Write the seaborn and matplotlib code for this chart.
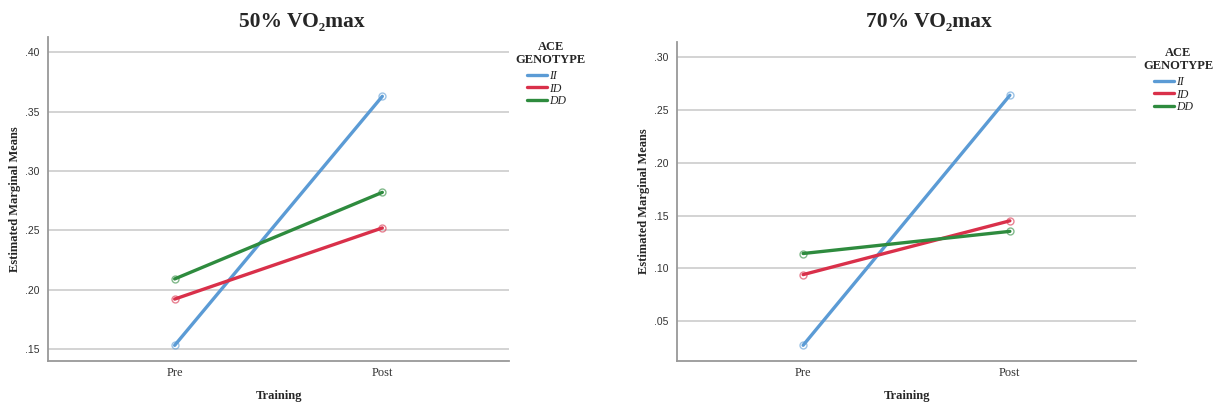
import matplotlib
matplotlib.use("Agg")
import matplotlib.pyplot as plt
from matplotlib.lines import Line2D
import seaborn as sns
import pandas as pd

training = ["Pre", "Post"]
genotypes = ["II", "ID", "DD"]
vo50_II = [0.153, 0.363]
vo50_ID = [0.192, 0.252]
vo50_DD = [0.209, 0.282]
vo70_II = [0.027, 0.264]
vo70_ID = [0.094, 0.145]
vo70_DD = [0.114, 0.135]
ticks50 = [0.15, 0.20, 0.25, 0.30, 0.35, 0.40]
labels50 = [".15", ".20", ".25", ".30", ".35", ".40"]
ticks70 = [0.05, 0.10, 0.15, 0.20, 0.25, 0.30]
labels70 = [".05", ".10", ".15", ".20", ".25", ".30"]
titles = ["50% VO₂max", "70% VO₂max"]

colors = {"II": "#5b9bd5", "ID": "#d9304a", "DD": "#2e8b3e"}

def make_df(ii, idd, dd):
    rows = []
    for g, vals in zip(genotypes, [ii, idd, dd]):
        for t, v in zip(training, vals):
            rows.append({"Training": t, "Genotype": g, "Mean": v})
    return pd.DataFrame(rows)

df50 = make_df(vo50_II, vo50_ID, vo50_DD)
df70 = make_df(vo70_II, vo70_ID, vo70_DD)

sns.set_theme(style="white")
plt.rcParams["font.family"] = ["Liberation Serif", "DejaVu Serif"]

fig = plt.figure(figsize=(12.15, 4.05), dpi=100)
W, H = 1215, 405
ax1 = fig.add_axes([48 / W, 1 - 361 / H, (509 - 48) / W, (361 - 37) / H])
ax2 = fig.add_axes([677 / W, 1 - 361 / H, (1136 - 677) / W, (361 - 42) / H])

configs = [
    (ax1, df50, ticks50, labels50, (0.1398, 0.413), titles[0], 302, (551, 41)),
    (ax2, df70, ticks70, labels70, (0.0121, 0.3145), titles[1], 929, (1178, 47)),
]

for ax, df, ticks, labels, ylim, title, tx, legpos in configs:
    for y in ticks:
        ax.axhline(y, color="#cccccc", lw=1.2, zorder=0)
    sns.lineplot(data=df, x="Training", y="Mean", hue="Genotype",
                 hue_order=genotypes, palette=colors, linewidth=2.4,
                 marker="o", markersize=5, markerfacecolor="none",
                 markeredgewidth=1.0, ax=ax, legend=False, sort=False)
    for line in ax.lines[len(ticks):]:
        c = line.get_color()
        line.set_markeredgecolor(matplotlib.colors.to_rgba(c, 0.6))
    ax.set_xlim(-0.61, 1.61)
    ax.set_ylim(*ylim)
    ax.set_yticks(ticks)
    ax.set_yticklabels(labels, fontsize=7.5, family="Liberation Sans", color="#333333")
    ax.set_xticks([0, 1])
    ax.set_xticklabels(training, fontsize=9, color="#333333")
    ax.tick_params(axis="y", length=0, pad=6)
    ax.tick_params(axis="x", length=0, pad=4)
    for s in ["top", "right"]:
        ax.spines[s].set_visible(False)
    for s in ["left", "bottom"]:
        ax.spines[s].set_color("#999999")
        ax.spines[s].set_linewidth(1.3)
    ax.set_xlabel("Training", fontsize=9, fontweight="bold", labelpad=8)
    ax.set_ylabel("Estimated Marginal Means", fontsize=9, fontweight="bold", labelpad=3)
    fig.text(tx / W, 1 - 22 / H, title, ha="center", va="center",
             fontsize=15.5, fontweight="bold")
    # legend
    lx, ly = legpos
    fig.text(lx / W, 1 - ly / H, "ACE\nGENOTYPE", ha="center", va="top",
             fontsize=9, fontweight="bold", linespacing=1.1)
    handles = [Line2D([], [], color=colors[g], lw=2.4) for g in genotypes]
    fig.legend(handles, genotypes, loc="upper left",
               bbox_to_anchor=((lx - 24) / W, 1 - (ly + 29) / H),
               frameon=False, prop={"style": "italic", "size": 8.5},
               handlelength=1.7, handletextpad=0.2, labelspacing=0.05,
               borderaxespad=0, borderpad=0)

fig.savefig("out.png", dpi=100)
